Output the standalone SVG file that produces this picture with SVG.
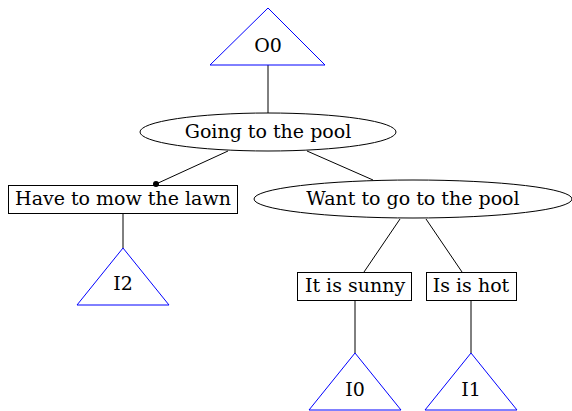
<svg xmlns="http://www.w3.org/2000/svg" width="572" height="411" viewBox="0 0 572 411">
<style>
.t{font-family:"DejaVu Serif",serif;font-size:19px;fill:#000;text-anchor:middle}
.tri{fill:none;stroke:#0000ff;stroke-width:1}
.n{fill:none;stroke:#000;stroke-width:1}
.e{stroke:#000;stroke-width:1;fill:none}
</style>
<rect width="572" height="411" fill="#fff"/>
<g id="connectors">
<line class="e" x1="268" y1="65" x2="268" y2="113"/>
<line class="e" x1="228" y1="151" x2="156" y2="184"/>
<circle cx="156" cy="184" r="3" fill="#000"/>
<line class="e" x1="123" y1="214" x2="123" y2="248"/>
<line class="e" x1="307" y1="151" x2="373" y2="180"/>
<line class="e" x1="400" y1="219" x2="364" y2="272"/>
<line class="e" x1="426" y1="219" x2="462" y2="272"/>
<line class="e" x1="355" y1="301" x2="355" y2="353"/>
<line class="e" x1="471" y1="301" x2="471" y2="353"/>
</g>
<g id="O0"><polygon class="tri" points="268,8 325,65 210,65"/><text class="t" x="268" y="52">O0</text></g>
<g id="going"><ellipse class="n" cx="268" cy="132" rx="128" ry="19"/><text class="t" x="268" y="138">Going to the pool</text></g>
<g id="mow"><rect class="n" x="8.5" y="185.5" width="229" height="28"/><text class="t" x="123" y="205">Have to mow the lawn</text></g>
<g id="I2"><polygon class="tri" points="123,248 169,305 77,305"/><text class="t" x="123" y="290">I2</text></g>
<g id="want"><ellipse class="n" cx="413" cy="199" rx="159" ry="19"/><text class="t" x="413" y="205">Want to go to the pool</text></g>
<g id="sunny"><rect class="n" x="297.5" y="272.5" width="114" height="28"/><text class="t" x="355" y="292">It is sunny</text></g>
<g id="hot"><rect class="n" x="426.5" y="272.5" width="90" height="28"/><text class="t" x="471" y="292">Is is hot</text></g>
<g id="I0"><polygon class="tri" points="355,353 401,410 309,410"/><text class="t" x="355" y="396">I0</text></g>
<g id="I1"><polygon class="tri" points="471,353 517,410 425,410"/><text class="t" x="471" y="396">I1</text></g>
</svg>
